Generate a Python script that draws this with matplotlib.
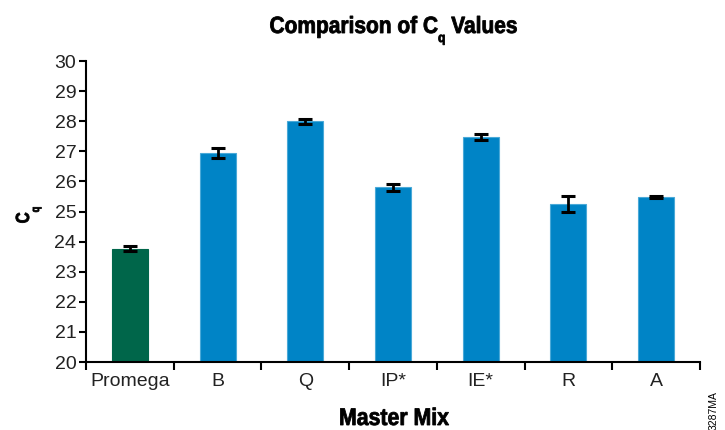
import matplotlib.pyplot as plt
import numpy as np
from matplotlib.textpath import TextPath, text_to_path
from matplotlib.patches import PathPatch
from matplotlib.path import Path
from matplotlib.font_manager import FontProperties
from matplotlib.transforms import Affine2D, IdentityTransform

mixes = ['Promega', 'B', 'Q', 'IP*', 'IE*', 'R', 'A']
cq_mean = [23.76, 26.94, 28.0, 25.8, 27.48, 25.24, 25.49]
cq_err = [0.08, 0.16, 0.08, 0.12, 0.09, 0.27, 0.04]
bar_colors = ['#00664a', '#0084c6', '#0084c6', '#0084c6', '#0084c6', '#0084c6', '#0084c6']
edge_colors = ['#00664a', '#4aa9d8', '#4aa9d8', '#4aa9d8', '#4aa9d8', '#4aa9d8', '#4aa9d8']

plt.rcParams['font.family'] = ['Liberation Sans', 'DejaVu Sans']
bold = FontProperties(family='Liberation Sans', weight='bold')


def condensed_text(fig, pieces, x, y, width=None, sx=1.0, rotation=0):
    # pieces: (text, size_px, baseline shift px); draws a narrowed bold label
    # in pixel coordinates, x = center, y = baseline
    paths = []
    pos = 0.0
    for s, size, dy in pieces:
        tp = TextPath((0, 0), s, size=size, prop=bold)
        paths.append(tp.transformed(Affine2D().translate(pos, dy)))
        p = bold.copy()
        p.set_size(size)
        w, _, _ = text_to_path.get_text_width_height_descent(s, p, ismath=False)
        pos += w
    if width is not None:
        sx = width / pos
    path = Path.make_compound_path(*paths)
    tr = Affine2D().translate(-pos / 2, 0).scale(sx, 1).rotate_deg(rotation).translate(x, y)
    patch = PathPatch(path.transformed(tr), facecolor='black', edgecolor='black',
                      linewidth=0.6, transform=IdentityTransform())
    fig.add_artist(patch)


fig = plt.figure(figsize=(7.25, 4.3), dpi=100)
ax = fig.add_axes([0.1186, 0.158, 0.8469, 0.700])

x = np.arange(len(mixes))
ax.bar(x, [m - 20 for m in cq_mean], bottom=20, width=0.41, color=bar_colors,
       edgecolor=edge_colors, linewidth=0.8, zorder=2)
ax.errorbar(x, cq_mean, yerr=cq_err, fmt='none', ecolor='black',
            elinewidth=2, capsize=5, capthick=2.2, zorder=3)

ax.set_ylim(20, 30)
ax.set_xlim(-0.5, len(mixes) - 0.5)
ax.set_yticks(range(20, 31))
ax.tick_params(axis='y', direction='out', length=5, width=1.5, labelsize=14,
               pad=2, labelcolor='#222222')

ax.set_xticks(np.arange(-0.5, len(mixes), 1.0))
ax.set_xticklabels([])
ax.tick_params(axis='x', which='major', direction='out', length=6, width=1.5)
ax.set_xticks(x, minor=True)
ax.set_xticklabels(mixes, minor=True, fontsize=14, color='#222222')
ax.tick_params(axis='x', which='minor', length=0, pad=8)

for s in ['top', 'right']:
    ax.spines[s].set_visible(False)
for s in ['left', 'bottom']:
    ax.spines[s].set_linewidth(1.5)

H = 430
condensed_text(fig, [('Comparison of C', 23.5, 0), ('q', 13.5, -9), (' Values', 23.5, 0)],
               393.5, H - 33, width=248)
condensed_text(fig, [('Master Mix', 24, 0)], 394, H - 425, width=110)
condensed_text(fig, [('C', 19, 0), ('q', 11.5, -10)], 29, H - 215, sx=0.8, rotation=90)
fig.text(714 / 725, 0.0, '3287MA', fontsize=7.5, rotation=90, ha='center', va='bottom')

fig.savefig('out.png', dpi=100)
